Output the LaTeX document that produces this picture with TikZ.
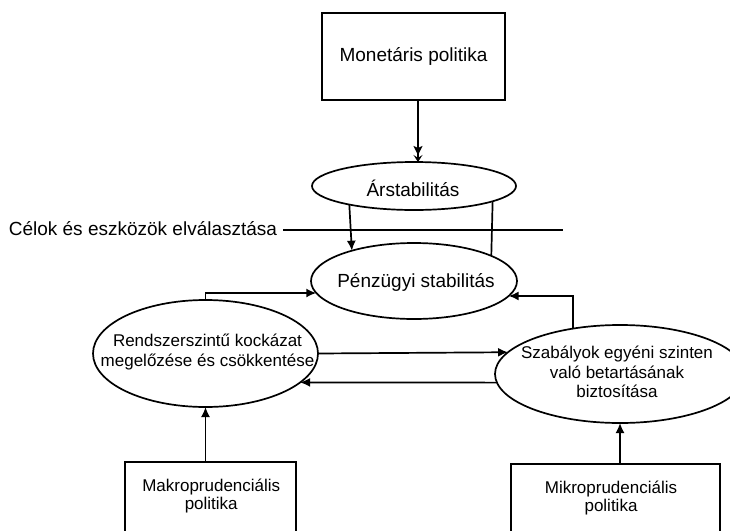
\documentclass[tikz,border=0pt]{standalone}
\usepackage{fontspec}
\setmainfont{Liberation Sans}
\usetikzlibrary{shapes.geometric,arrows.meta}
\begin{document}
\begin{tikzpicture}[x=1pt,y=-1pt,line width=1.7pt,
  big/.style={font=\fontsize{19}{22}\selectfont},
  mid/.style={font=\fontsize{17}{19.5}\selectfont,align=center},
  small/.style={font=\fontsize{17}{18.5}\selectfont,align=center},
  boxnode/.style={draw,rectangle,line width=2pt,inner sep=0pt,outer sep=0pt},
  ellnode/.style={draw,ellipse,inner sep=0pt,outer sep=0pt,line width=1.7pt},
  arr/.style={-{Latex[length=10pt,width=9pt]}},
  dblarr/.style={-{Stealth[length=9pt,width=9pt,inset=2pt]Stealth[length=7pt,width=9pt,inset=3pt]}}]
\useasboundingbox (0,0) rectangle (730,530);
\clip (0,0) rectangle (730,530);
% nodes
\node[boxnode,big,minimum width=183pt,minimum height=87pt] (mon) at (413.5,56.5) {Monetáris politika};
\node[ellnode,minimum width=204pt,minimum height=48pt,
  label={[big,inner sep=0pt,yshift=-2pt,xshift=-1pt]center:Árstabilitás}] (ar) at (414,186) {};
\node[ellnode,minimum width=206pt,minimum height=76pt,
  label={[big,inner sep=0pt,yshift=-1pt,xshift=2pt]center:Pénzügyi stabilitás}] (pz) at (414,281) {};
\node[ellnode,minimum width=225pt,minimum height=107pt,
  label={[mid,inner sep=0pt,xshift=2pt,yshift=1.5pt]center:Rendszerszintű kockázat\\megelőzése és csökkentése}] (rk) at (205.5,353.5) {};
\node[ellnode,minimum width=250pt,minimum height=98pt,
  label={[mid,inner sep=0pt,xshift=-3pt,yshift=2pt]center:Szabályok egyéni szinten\\való betartásának\\biztosítása}] (sz) at (620,374) {};
\node[boxnode,minimum width=170.5pt,minimum height=80pt,
  label={[small,inner sep=0pt,xshift=1pt,yshift=6pt]center:Makroprudenciális\\politika}] (mak) at (210.25,502) {};
\node[boxnode,minimum width=209pt,minimum height=80pt,
  label={[small,inner sep=0pt,xshift=-4.5pt,yshift=6pt]center:Mikroprudenciális\\politika}] (mik) at (615.5,504) {};
\node[big,anchor=base west,inner sep=0pt] (lbl) at (8,235) {Célok és eszközök elválasztása};
\coordinate (sepL) at (283,230);
\coordinate (sepR) at (563,230);
% connectors
\draw (sepL) -- (sepR);
\draw[dblarr] ([xshift=4pt]ar.north |- mon.south) -- ([xshift=4pt]ar.north);
\draw[arr] (ar.196.7) -- (pz.154.5);
\draw (ar.-11.55) -- (pz.18.15);
\draw[arr] (rk.north) |- (pz.187.65);
\draw[arr] (sz.136.7) |- (pz.-9.72);
\draw[arr] (rk.east) -- (sz.169.76);
\draw[arr] (sz.184.19) -- (rk.-17.44);
\draw[arr] (mak.north -| rk.south) -- (rk.south);
\draw[arr] (mik.north -| sz.south) -- (sz.south);
\end{tikzpicture}
\end{document}
